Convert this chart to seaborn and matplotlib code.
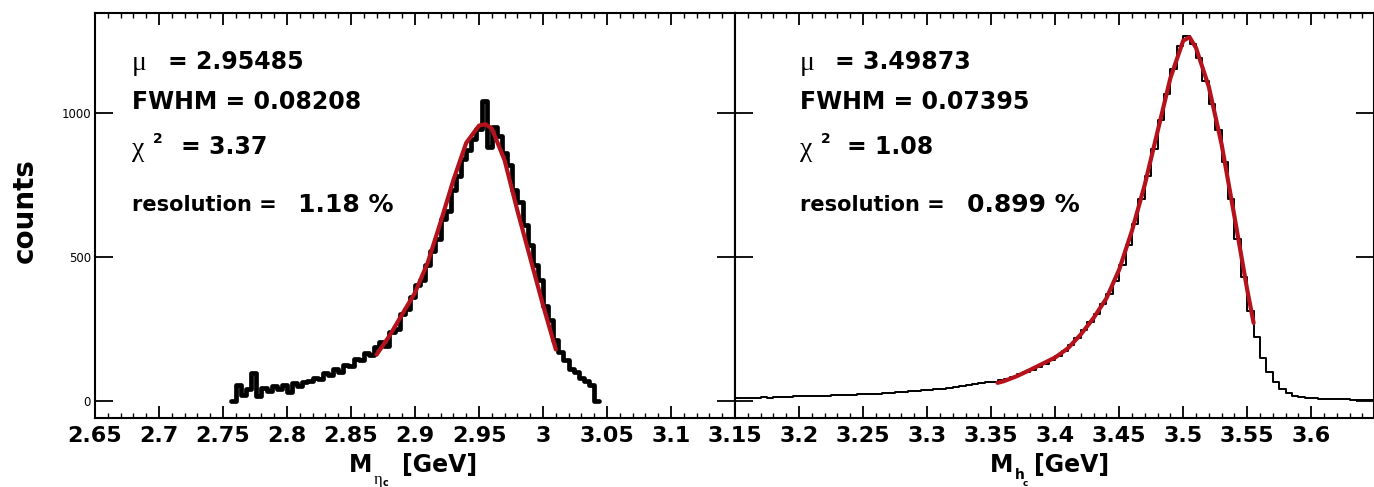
import numpy as np
import pandas as pd
import matplotlib
matplotlib.use("Agg")
import matplotlib.pyplot as plt
from matplotlib.ticker import MultipleLocator
import seaborn as sns

# ---------------- data ----------------
# eta_c candidate mass spectrum: bins of 4 MeV starting at 2.760 GeV
etac_bin_lo = 2.760
etac_bin_w = 0.004
etac_counts = [
    55, 20, 40, 95, 15, 45, 35, 50, 40, 55,
    30, 60, 50, 65, 70, 80, 75, 95, 90, 110,
    100, 125, 120, 145, 140, 165, 160, 185,
    205, 190, 240, 250, 300, 320, 360, 400, 420, 470,
    520, 560, 630, 660, 730, 780, 840, 870, 910, 945,
    1040, 880, 950, 920, 860, 820, 730, 690, 610, 540,
    470, 420, 330, 280, 210, 170, 140, 110, 100, 80,
    70, 55,
]
# fitted line shape for eta_c
etac_fit_x = [2.870, 2.880, 2.890, 2.900, 2.910, 2.920, 2.930, 2.940, 2.950,
              2.955, 2.960, 2.970, 2.980, 2.990, 3.000, 3.010]
etac_fit_y = [160, 225, 300, 375, 480, 620, 766, 895, 955,
              960, 945, 835, 660, 496, 332, 178]

# h_c candidate mass spectrum: bins of 5 MeV starting at 3.150 GeV
hc_bin_lo = 3.150
hc_bin_w = 0.005
hc_counts = [
    8, 10, 9, 11, 12, 11, 13, 14, 13, 15,
    16, 15, 17, 18, 17, 19, 20, 19, 21, 22,
    22, 24, 25, 27, 26, 29, 30, 32, 33, 36,
    38, 40, 42, 45, 47, 50, 53, 57, 60, 64,
    66, 72, 76, 84, 92, 100, 108, 118, 128, 140,
    155, 172, 192, 216, 245, 272, 302, 335, 370, 415,
    470, 540, 615, 700, 780, 875, 975, 1065, 1150, 1230,
    1265, 1240, 1190, 1110, 1030, 940, 830, 700, 560, 430,
    310, 220, 150, 100, 65, 40, 27, 18, 13, 10,
    8, 7, 6, 6, 5, 5, 4, 4, 4, 3,
]
# fitted line shape for h_c
hc_fit_x = [3.355, 3.360, 3.370, 3.380, 3.390, 3.400, 3.410, 3.420, 3.430,
            3.440, 3.450, 3.460, 3.470, 3.480, 3.490, 3.500, 3.505, 3.510,
            3.520, 3.530, 3.540, 3.550, 3.555]
hc_fit_y = [62, 68, 85, 106, 128, 150, 182, 230, 287,
            355, 455, 590, 750, 935, 1120, 1250, 1262, 1225,
            1090, 890, 640, 385, 270]

etac_stats = ["2.95485", "0.08208", "3.37", "1.18 %"]
hc_stats = ["3.49873", "0.07395", "1.08", "0.899 %"]

etac_ticks = ["2.65", "2.7", "2.75", "2.8", "2.85", "2.9", "2.95", "3", "3.05", "3.1"]
hc_ticks = ["3.15", "3.2", "3.25", "3.3", "3.35", "3.4", "3.45", "3.5", "3.55", "3.6"]

# ---------------- style ----------------
sns.set_theme(style="white")
plt.rcParams["font.family"] = ["DejaVu Sans"]
plt.rcParams["text.color"] = "black"
plt.rcParams["axes.labelcolor"] = "black"
plt.rcParams["xtick.color"] = "black"
plt.rcParams["ytick.color"] = "black"

FIT_RED = "#b5121b"
SERIF = ["Liberation Serif", "DejaVu Serif"]

fig = plt.figure(figsize=(13.74, 4.87), dpi=100)
W, H = 1374.0, 487.0
x0, x1, x2 = 95, 735, 1374
ytop, ybot = 13, 418
axL = fig.add_axes([x0 / W, (H - ybot) / H, (x1 - x0) / W, (ybot - ytop) / H])
axR = fig.add_axes([x1 / W, (H - ybot) / H, (x2 - x1) / W, (ybot - ytop) / H], sharey=axL)


def draw_hist(ax, lo, w, counts, lw):
    n = len(counts)
    edges = [lo + w * k for k in range(-1, n + 2)]
    vals = [0] + list(counts) + [0]
    centers = [(a + b) / 2 for a, b in zip(edges[:-1], edges[1:])]
    df = pd.DataFrame({"mass": centers, "n": vals})
    sns.histplot(data=df, x="mass", weights="n", bins=edges, element="step",
                 fill=False, color="black", linewidth=lw, ax=ax)


draw_hist(axL, etac_bin_lo, etac_bin_w, etac_counts, 3.4)
draw_hist(axR, hc_bin_lo, hc_bin_w, hc_counts, 1.4)

sns.lineplot(x=etac_fit_x, y=etac_fit_y, color=FIT_RED, linewidth=3.0, ax=axL)
sns.lineplot(x=hc_fit_x, y=hc_fit_y, color=FIT_RED, linewidth=3.0, ax=axR)

axL.set_xlim(2.65, 3.15)
axR.set_xlim(3.15, 3.649)
axL.set_ylim(-60, 1346)

for ax in (axL, axR):
    for sp in ax.spines.values():
        sp.set_visible(True)
        sp.set_color("black")
        sp.set_linewidth(1.5)
    ax.xaxis.set_minor_locator(MultipleLocator(0.01))
    ax.tick_params(axis="x", which="major", direction="in", length=8.5, width=1.3,
                   top=True, bottom=True, pad=6, labelsize=16)
    ax.tick_params(axis="x", which="minor", direction="in", length=3.8, width=1.0,
                   top=True, bottom=True)
    ax.tick_params(axis="y", which="major", direction="in", length=13, width=1.3,
                   left=True, right=True, labelsize=8.5, pad=3)
    ax.set_ylabel("")
    ax.set_xlabel("")

axL.set_xticks(np.round(np.arange(2.65, 3.101, 0.05), 2))
axL.set_xticklabels(etac_ticks, fontweight="bold")
axR.set_xticks(np.round(np.arange(3.15, 3.601, 0.05), 2))
axR.set_xticklabels(hc_ticks, fontweight="bold")
axL.set_yticks([0, 500, 1000])
axL.set_yticklabels(["0", "500", "1000"])
axR.tick_params(axis="y", labelleft=False)

axL.set_ylabel("counts", fontsize=20, fontweight="bold")
axL.yaxis.set_label_coords(-0.088, 0.512)


def fig_text(px, py, s, **kw):
    fig.text(px / W, 1 - py / H, s, va="baseline", ha="left", **kw)


# axis titles: M with particle subscript, then the unit
fig_text(349, 472, "M", fontsize=17, fontweight="bold")
fig_text(374, 484, "\u03b7", fontsize=12, family=SERIF)
fig_text(383, 486, "c", fontsize=7, fontweight="bold")
fig_text(402, 472, "[GeV]", fontsize=17, fontweight="bold")

fig_text(990, 472, "M", fontsize=17, fontweight="bold")
fig_text(1015, 479, "h", fontsize=10, fontweight="bold")
fig_text(1023, 486, "c", fontsize=6.5, fontweight="bold")
fig_text(1034, 472, "[GeV]", fontsize=17, fontweight="bold")


def stats_block(ax, vals, xs):
    tr = ax.transAxes
    sym_x, eq_x, res_val_x = xs
    greek = dict(family=SERIF, fontsize=20, va="center")
    body = dict(fontsize=17, fontweight="bold", va="center")
    ax.text(sym_x, 0.876, "\u03bc", transform=tr, **greek)
    ax.text(eq_x, 0.879, "= " + vals[0], transform=tr, **body)
    ax.text(sym_x, 0.780, "FWHM = " + vals[1], transform=tr, **body)
    ax.text(sym_x, 0.662, "\u03c7", transform=tr, **greek)
    ax.text(sym_x + 0.033, 0.690, "2", transform=tr, fontsize=10, fontweight="bold", va="center")
    ax.text(eq_x + 0.02, 0.669, "= " + vals[2], transform=tr, **body)
    ax.text(sym_x, 0.526, "resolution =", transform=tr, fontsize=15, fontweight="bold", va="center")
    ax.text(res_val_x, 0.526, vals[3], transform=tr, fontsize=18, fontweight="bold", va="center")


stats_block(axL, etac_stats, (0.058, 0.114, 0.317))
stats_block(axR, hc_stats, (0.102, 0.156, 0.3625))

fig.savefig("out.png", dpi=100)
